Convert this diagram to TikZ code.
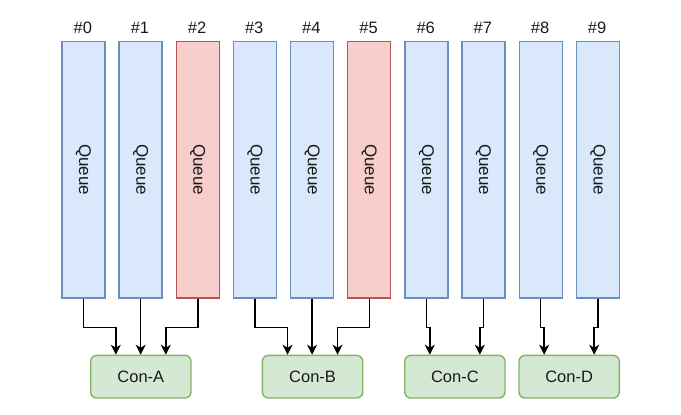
\documentclass[tikz,border=0pt]{standalone}
\usepackage{fontspec}
\setmainfont{Liberation Sans}
\usetikzlibrary{arrows.meta}
\definecolor{bfill}{HTML}{DAE8FC}
\definecolor{bdraw}{HTML}{6C8EBF}
\definecolor{rfill}{HTML}{F8CECC}
\definecolor{rdraw}{HTML}{B85450}
\definecolor{gfill}{HTML}{D5E8D4}
\definecolor{gdraw}{HTML}{82B366}
\definecolor{txt}{HTML}{1A1A1A}
\tikzset{
  queue/.style={draw=bdraw, fill=bfill, line width=1.4pt, minimum width=43pt, minimum height=256.6pt, inner sep=0pt, anchor=north west},
  redqueue/.style={queue, draw=rdraw, fill=rfill},
  qlabel/.style={rotate=-90, font=\fontsize{17}{17}\selectfont, text=txt},
  numlabel/.style={font=\fontsize{16.5}{17}\selectfont, text=txt, anchor=base},
  con/.style={draw=gdraw, fill=gfill, line width=1.4pt, rounded corners=6pt, minimum width=100.3pt, minimum height=42.6pt, inner sep=0pt, anchor=north west, font=\fontsize{16.5}{17}\selectfont, text=txt},
  link/.style={draw=black, line width=1.4pt, -{Stealth[length=10pt,width=10pt,inset=3pt]}}
}
\begin{document}
\begin{tikzpicture}[x=1pt,y=-1pt]
\useasboundingbox (0,0) rectangle (681,415);
\foreach \i in {0,...,9} {
  \pgfmathsetmacro{\xl}{61.3+57.15*\i}
  \ifnum\i=2
    \node[redqueue] (q\i) at (\xl,40.7) {};
  \else\ifnum\i=5
    \node[redqueue] (q\i) at (\xl,40.7) {};
  \else
    \node[queue] (q\i) at (\xl,40.7) {};
  \fi\fi
  \node[qlabel] (ql\i) at (q\i.center) {Queue};
  \node[numlabel] (n\i) at (\xl+21.5,33) {\#\i};
}
\node[con] (A) at (90,354.7) {Con-A};
\node[con] (B) at (261.7,354.7) {Con-B};
\node[con] (C) at (404,354.7) {Con-C};
\node[con] (D) at (518.3,354.7) {Con-D};
\coordinate (cA1) at ([xshift=-25pt]A.north);
\coordinate (cA3) at ([xshift=25pt]A.north);
\coordinate (cB1) at ([xshift=-25pt]B.north);
\coordinate (cB3) at ([xshift=25pt]B.north);
\coordinate (cC1) at ([xshift=-25pt]C.north);
\coordinate (cC3) at ([xshift=25pt]C.north);
\coordinate (cD1) at ([xshift=-25pt]D.north);
\coordinate (cD3) at ([xshift=25pt]D.north);
\draw[link] (q0.south) -- ++(0,28.7) -| (cA1);
\draw[link] (q1.south) -- (q1.south |- A.north);
\draw[link] (q2.south) -- ++(0,28.7) -| (cA3);
\draw[link] (q3.south) -- ++(0,28.7) -| (cB1);
\draw[link] (q4.south) -- (q4.south |- B.north);
\draw[link] (q5.south) -- ++(0,28.7) -| (cB3);
\draw[link] (q6.south) -- ++(0,28.7) -| (cC1);
\draw[link] (q7.south) -- ++(0,28.7) -| (cC3);
\draw[link] (q8.south) -- ++(0,28.7) -| (cD1);
\draw[link] (q9.south) -- ++(0,28.7) -| (cD3);
\end{tikzpicture}
\end{document}
